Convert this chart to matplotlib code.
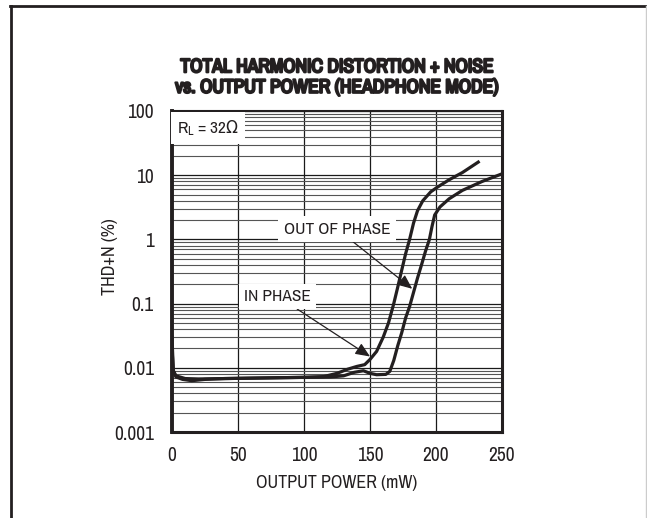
import matplotlib
matplotlib.use('Agg')
import matplotlib.pyplot as plt
import matplotlib.patheffects as pe
from matplotlib import font_manager
from matplotlib.lines import Line2D
from matplotlib.ticker import LogLocator, FixedLocator, NullFormatter, FixedFormatter

# narrow face if one is around, else DejaVu condensed
names = sorted({f.name for f in font_manager.fontManager.ttflist})
narrow = [n for n in names if 'Narrow' in n or 'Condensed' in n]
plt.rcParams['font.family'] = narrow[:1] + ['DejaVu Sans']
plt.rcParams['font.stretch'] = 'condensed'

# THD+N vs output power, RL = 32 ohm
in_phase_mw = [0, 1, 3, 8, 15, 25, 40, 60, 80, 100, 115, 125, 133, 140, 146,
               150, 155, 160, 164, 168, 171, 174, 177, 180, 183, 186, 190,
               196, 201, 210, 220, 232]
in_phase_thd = [0.03, 0.009, 0.0072, 0.0066, 0.0063, 0.0066, 0.0068, 0.0069,
                0.007, 0.0071, 0.0073, 0.0082, 0.0095, 0.0105, 0.0112, 0.0135,
                0.018, 0.03, 0.05, 0.10, 0.18, 0.33, 0.6, 1.0, 1.8, 2.8, 4.0,
                5.5, 6.5, 8.5, 11, 16]

out_phase_mw = [0, 1, 3, 10, 20, 40, 60, 80, 100, 120, 130, 138, 145, 150,
                155, 162, 165, 168, 171, 174, 177, 180, 183, 186, 189, 192,
                195, 197, 199, 203, 210, 220, 235, 250]
out_phase_thd = [0.02, 0.009, 0.0075, 0.0068, 0.0067, 0.0068, 0.0069, 0.007,
                 0.0071, 0.0072, 0.0075, 0.0085, 0.009, 0.0082, 0.0078, 0.0079,
                 0.0088, 0.013, 0.022, 0.035, 0.06, 0.09, 0.15, 0.25, 0.40,
                 0.65, 1.0, 1.6, 2.4, 3.2, 4.3, 5.8, 8.0, 10.5]

x_ticks = [0, 50, 100, 150, 200, 250]
y_ticks = [0.001, 0.01, 0.1, 1, 10, 100]
y_labels = ['0.001', '0.01', '0.1', '1', '10', '100']

ink = '#231f20'

fig = plt.figure(figsize=(6.47, 5.18), dpi=100)
ax = fig.add_axes([172 / 647, 1 - 432 / 518, 330 / 647, 321 / 518])

ax.set_yscale('log')
ax.set_xlim(0, 250)
ax.set_ylim(0.001, 100)

ax.xaxis.set_major_locator(FixedLocator(x_ticks))
ax.yaxis.set_major_locator(FixedLocator(y_ticks))
ax.yaxis.set_major_formatter(FixedFormatter(y_labels))
ax.yaxis.set_minor_locator(LogLocator(base=10, subs=range(2, 10)))
ax.yaxis.set_minor_formatter(NullFormatter())

ax.grid(True, which='major', axis='both', color='#1a1a1a', lw=0.9)
ax.grid(True, which='minor', axis='y', color='#555555', lw=0.8)
ax.tick_params(which='both', length=0)
ax.tick_params(axis='y', pad=13, labelsize=14, colors=ink)
ax.tick_params(axis='x', pad=10, labelsize=14, colors=ink)

for side, w in [('left', 2.8), ('bottom', 2.2), ('right', 2.2), ('top', 1.5)]:
    ax.spines[side].set_linewidth(w)
    ax.spines[side].set_color(ink)

ax.plot(in_phase_mw, in_phase_thd, color=ink, lw=2.3, solid_joinstyle='round')
ax.plot(out_phase_mw, out_phase_thd, color=ink, lw=2.3, solid_joinstyle='round')

ax.set_xlabel('OUTPUT POWER (mW)', fontsize=13, color=ink, labelpad=7)
ax.set_ylabel('THD+N (%)', fontsize=13, color=ink)
ax.yaxis.set_label_coords(-0.165, 0.545)

box = dict(boxstyle='square,pad=0.3', fc='white', ec='none')
ax.text(4, 55, r'$\mathregular{R_L}$ = 32$\Omega$', fontsize=12.5, color=ink,
        va='center', ha='left', bbox=dict(boxstyle='square,pad=0.35', fc='white', ec='none'))

arrow = dict(arrowstyle='-|>,head_length=0.7,head_width=0.3', color=ink, lw=0.9,
             shrinkA=0, shrinkB=0)
ax.annotate('OUT OF PHASE', xy=(182, 0.17), xytext=(125, 1.45),
            fontsize=12.5, color=ink, ha='center', va='center', bbox=box,
            arrowprops=arrow)
ax.annotate('IN PHASE', xy=(150, 0.015), xytext=(80, 0.13),
            fontsize=12.5, color=ink, ha='center', va='center', bbox=box,
            arrowprops=arrow)

# heavy title: stroke the glyphs to thicken them
fig.text(337 / 647, 1 - 77 / 518,
         'TOTAL HARMONIC DISTORTION + NOISE\nvs. OUTPUT POWER (HEADPHONE MODE)',
         ha='center', va='center', fontsize=14, fontweight='bold', color=ink,
         linespacing=1.1,
         path_effects=[pe.withStroke(linewidth=1.6, foreground=ink)])

# page frame
fig.add_artist(Line2D([11 / 647, 11 / 647], [0, 1 - 6 / 518], color=ink, lw=2,
                      transform=fig.transFigure))
fig.add_artist(Line2D([10 / 647, 1], [1 - 6 / 518, 1 - 6 / 518], color=ink, lw=2,
                      transform=fig.transFigure))
fig.add_artist(Line2D([645.5 / 647, 645.5 / 647], [0, 1 - 6 / 518], color='#cccccc',
                      lw=1, transform=fig.transFigure))

fig.savefig('out.png', dpi=100)
